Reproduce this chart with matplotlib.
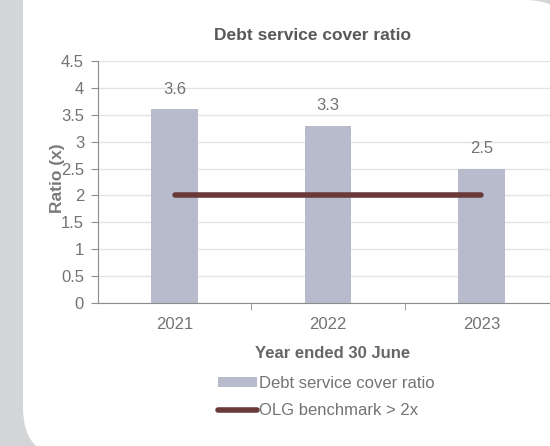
import matplotlib
matplotlib.use("Agg")
import matplotlib.pyplot as plt
from matplotlib.patches import FancyBboxPatch, Patch, Rectangle
from matplotlib.lines import Line2D
from matplotlib.transforms import IdentityTransform
from matplotlib.ticker import FixedLocator

plt.rcParams['font.family'] = ['Liberation Sans', 'DejaVu Sans']

# data
years = ['2021', '2022', '2023']
dscr = [3.6, 3.3, 2.5]
benchmark = [2, 2, 2]
yticks = [0, 0.5, 1, 1.5, 2, 2.5, 3, 3.5, 4, 4.5]

bar_col = '#b7bbcc'
line_col = '#6a3a3a'
text_col = '#737373'

W, H = 550, 446
fig = plt.figure(figsize=(W / 100, H / 100), dpi=100)
fig.patch.set_facecolor('#d4d5d7')

# white panel, rounded at top-right and bottom-left only (pixel coords)
panel = FancyBboxPatch((23, -12), 552, 458, boxstyle="round,pad=0,rounding_size=50",
                       facecolor='white', edgecolor='none', transform=IdentityTransform(),
                       zorder=0)
fig.add_artist(panel)
fig.add_artist(Rectangle((23, 200), 120, 246, facecolor='white', edgecolor='none',
                         transform=IdentityTransform(), zorder=0))

ax = fig.add_axes([98 / W, 143 / H, 460 / W, 242 / H])
ax.set_facecolor('none')

x = list(range(len(years)))
ax.bar(x, dscr, width=0.306, color=bar_col, zorder=2)
ax.plot(x, benchmark, color=line_col, lw=4, solid_capstyle='round', zorder=3)

for xi, v in zip(x, dscr):
    ax.annotate(f'{v}', (xi, v), xytext=(0, 9), textcoords='offset points',
                ha='center', va='bottom', fontsize=12, color=text_col)

ax.set_xlim(-0.5, 2.5)
ax.set_ylim(0, 4.5)
ax.set_yticks(yticks)
ax.set_yticklabels([f'{t:g}' for t in yticks])
ax.set_xticks(x)
ax.set_xticklabels(years)
ax.xaxis.set_minor_locator(FixedLocator([0.5, 1.5, 2.5]))
ax.tick_params(axis='x', which='major', length=0, pad=10, labelsize=12, labelcolor=text_col)
ax.tick_params(axis='x', which='minor', length=5, color='#8c8c8c')
ax.tick_params(axis='y', length=5, pad=5, labelsize=12, labelcolor=text_col, color='#8c8c8c')

ax.yaxis.grid(True, color='#e4e4e4', lw=1, zorder=0)
ax.set_axisbelow(True)
for s in ['top', 'right']:
    ax.spines[s].set_visible(False)
for s in ['left', 'bottom']:
    ax.spines[s].set_color('#8c8c8c')

# the label sits over the tick labels, as in the original
ax.set_ylabel('Ratio (x)', fontsize=12.5, fontweight='bold', color='#7a7a7a')
ax.yaxis.set_label_coords(-0.072, 0.517)
ax.set_xlabel('Year ended 30 June', fontsize=12, fontweight='bold', color='#666666')
ax.xaxis.set_label_coords(0.51, -0.178)

fig.text(313 / W, 1 - 36 / H, 'Debt service cover ratio', ha='center', va='center',
         fontsize=12.5, fontweight='bold', color='#595959')

handles = [Patch(facecolor=bar_col, edgecolor='none'),
           Line2D([], [], color=line_col, lw=4, solid_capstyle='round')]
labels = ['Debt service cover ratio', 'OLG benchmark > 2x']
leg = fig.legend(handles, labels, loc='upper left', bbox_to_anchor=(218 / W, 1 - 376 / H),
                 frameon=False, borderpad=0, borderaxespad=0, handlelength=2.35,
                 handleheight=0.6, handletextpad=0.1, labelspacing=0.74, fontsize=12)
for t in leg.get_texts():
    t.set_color(text_col)

fig.savefig('out.png', dpi=100, facecolor=fig.get_facecolor())
